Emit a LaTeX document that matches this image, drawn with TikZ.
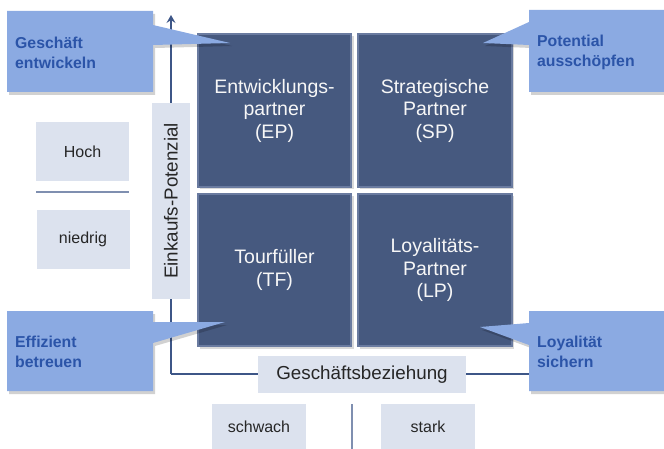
\documentclass[tikz,border=0pt]{standalone}
\usepackage{fontspec}
\setmainfont{Liberation Sans}
\usetikzlibrary{arrows.meta}
\definecolor{quad}{HTML}{46597F}
\definecolor{quadedge}{HTML}{6A7BA0}
\definecolor{callout}{HTML}{8BAAE2}
\definecolor{callouttext}{HTML}{2B54A8}
\definecolor{lightbox}{HTML}{DCE2EE}
\definecolor{axis}{HTML}{3D5687}
\definecolor{sepline}{HTML}{7F8FB0}
\tikzset{
  quadbox/.style={fill=quad, draw=quadedge, line width=1.2pt, text=white!94!gray,
    align=center, inner sep=0pt, font=\fontsize{19.5}{22.5}\selectfont},
  labelbox/.style={fill=lightbox, inner sep=0pt, text=black!85, font=\fontsize{16}{19}\selectfont},
  axisbox/.style={fill=lightbox, inner sep=0pt, text=black!85, font=\fontsize{18.8}{22}\selectfont},
  calloutshape/.style={fill=callout},
  calloutshadow/.style={fill=black, fill opacity=0.18},
  callouttxt/.style={text=callouttext, align=left, anchor=west, inner sep=0pt,
    font=\bfseries\fontsize{15.8}{20}\selectfont},
  axisline/.style={draw=axis, line width=2pt},
  sep/.style={draw=sepline, line width=1.5pt}
}
\begin{document}
\begin{tikzpicture}[x=1pt,y=-1pt]
\useasboundingbox (0,0) rectangle (664,449);
% axes
\coordinate (ytop) at (171,15);
\coordinate (corner) at (171,374);
\coordinate (xend) at (600,374);
\draw[axisline, -{Stealth[length=8pt,width=9pt,inset=3pt]}] (corner) -- (ytop);
\draw[axisline] (corner) -- (xend);
% quadrant shadows
\foreach \cx/\cy in {274.5/110.5, 435/110.5, 274.5/270, 435/270}
  \fill[black, fill opacity=0.15] (\cx-75,\cy-74) rectangle (\cx+79,\cy+79);
% quadrants
\node[quadbox, minimum width=153pt, minimum height=153pt] (EP) at (274.5,110.5) {Entwicklungs-\\partner\\(EP)};
\node[quadbox, minimum width=154pt, minimum height=153pt] (SP) at (435,110.5) {Strategische\\Partner\\(SP)};
\node[quadbox, minimum width=153pt, minimum height=152pt] (TF) at (274.5,270) {Tourfüller\\(TF)};
\node[quadbox, minimum width=154pt, minimum height=152pt] (LP) at (435,270) {Loyalitäts-\\Partner\\(LP)};
% axis label boxes
\node[axisbox, rotate=90, minimum width=195pt, minimum height=38pt] (EK) at (171,201) {Einkaufs-Potenzial};
\node[axisbox, minimum width=208pt, minimum height=37pt] (GB) at (362,374.5) {Geschäftsbeziehung};
% level boxes
\node[labelbox, minimum width=93pt, minimum height=59pt] (hoch) at (82.5,151.5) {Hoch};
\node[labelbox, minimum width=93pt, minimum height=59pt] (niedrig) at (83,239.5) {niedrig};
\node[labelbox, minimum width=94pt, minimum height=45pt] (schwach) at (259,426.5) {schwach};
\node[labelbox, minimum width=94pt, minimum height=45pt] (stark) at (428,426.5) {stark};
\coordinate (s1a) at (36,192);
\coordinate (s1b) at (129,192);
\draw[sep] (s1a) -- (s1b);
\coordinate (s2a) at (352,404);
\coordinate (s2b) at (352,449);
\draw[sep] (s2a) -- (s2b);
% callouts
\fill[calloutshadow] (9,14) -- (155,14) -- (155,28) -- (232,46) -- (155,48) -- (155,95) -- (9,95) -- cycle;
\fill[calloutshape] (7,11) -- (153,11) -- (153,25) -- (230,43) -- (153,45) -- (153,92) -- (7,92) -- cycle;
\node[callouttxt] (c1) at (15,53) {Geschäft\\entwickeln};

\fill[calloutshadow] (531,13) -- (664,13) -- (664,95) -- (531,95) -- (531,48) -- (485,46) -- (531,25) -- cycle;
\fill[calloutshape] (529,10) -- (664,10) -- (664,92) -- (529,92) -- (529,45) -- (483,43) -- (529,22) -- cycle;
\node[callouttxt] (c2) at (537,52) {Potential\\ausschöpfen};

\fill[calloutshadow] (9,314) -- (155,314) -- (155,325) -- (227,325) -- (155,346) -- (155,394) -- (9,394) -- cycle;
\fill[calloutshape] (7,311) -- (153,311) -- (153,322) -- (225,322) -- (153,343) -- (153,391) -- (7,391) -- cycle;
\node[callouttxt] (c3) at (15,352) {Effizient\\betreuen};

\fill[calloutshadow] (531,314) -- (664,314) -- (664,394) -- (531,394) -- (531,348) -- (482,330) -- (531,326) -- cycle;
\fill[calloutshape] (529,311) -- (664,311) -- (664,391) -- (529,391) -- (529,345) -- (480,327) -- (529,323) -- cycle;
\node[callouttxt] (c4) at (537,352) {Loyalität\\sichern};
\end{tikzpicture}
\end{document}
